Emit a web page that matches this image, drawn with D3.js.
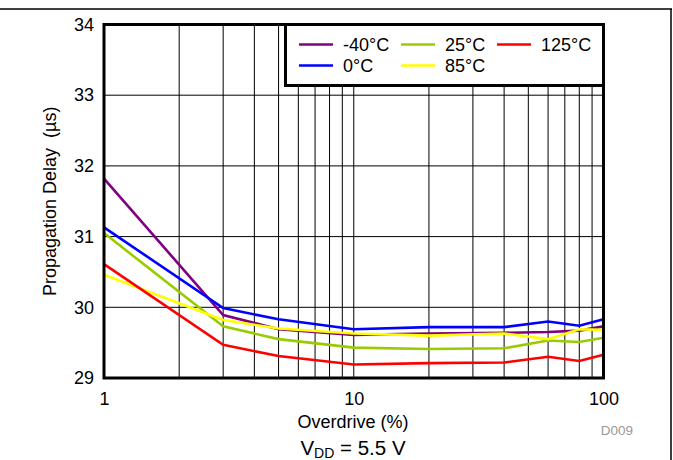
<!DOCTYPE html>
<html>
<head>
<meta charset="utf-8">
<script src="https://cdn.jsdelivr.net/npm/d3@7"></script>
<style>
  html, body { margin: 0; padding: 0; background: #fff; }
  svg { display: block; font-family: "Liberation Sans", Arial, sans-serif; }
</style>
</head>
<body>
<svg id="chart" width="673" height="460"></svg>
<script>
// Overdrive (%) sample points
const overdrive = [1, 3, 5, 10, 20, 40, 60, 80, 100];

// Propagation delay (µs) per temperature
const delayM40 = [31.82, 29.89, 29.69, 29.61, 29.63, 29.64, 29.65, 29.67, 29.73];
const delay0   = [31.13, 29.99, 29.83, 29.69, 29.72, 29.72, 29.80, 29.74, 29.83];
const delay25  = [31.05, 29.73, 29.55, 29.43, 29.41, 29.42, 29.53, 29.51, 29.57];
const delay85  = [30.46, 29.82, 29.70, 29.63, 29.60, 29.63, 29.55, 29.69, 29.68];
const delay125 = [30.61, 29.47, 29.31, 29.19, 29.21, 29.22, 29.30, 29.24, 29.33];

const seriesNames  = ["-40°C", "0°C", "25°C", "85°C", "125°C"];
const seriesColors = ["#800080", "#0000ff", "#99cc00", "#ffff00", "#ff0000"];
const seriesValues = [delayM40, delay0, delay25, delay85, delay125];

const xTickValues = [1, 10, 100];
const yTickValues = [29, 30, 31, 32, 33, 34];

const svg = d3.select("#chart");
const plot = { left: 104, right: 603.5, top: 24.5, bottom: 378 };
const FONT = "Liberation Sans, Arial, sans-serif";

const x = d3.scaleLog().domain([1, 100]).range([plot.left, plot.right]);
const y = d3.scaleLinear().domain([29, 34]).range([plot.bottom, plot.top]);

// Outer page rules
svg.append("line").attr("x1", 0).attr("x2", 672).attr("y1", 9).attr("y2", 9)
  .attr("stroke", "#000").attr("stroke-width", 1.5);
svg.append("line").attr("x1", 671).attr("x2", 671).attr("y1", 9).attr("y2", 460)
  .attr("stroke", "#000").attr("stroke-width", 1.5);

// Grid: vertical lines at every log step, horizontal at each integer
const minor = [];
[1, 10].forEach(d => { for (let k = 2; k <= 9; k++) minor.push(d * k); });
minor.push(10);
const grid = svg.append("g");
grid.selectAll("line.v").data(minor).enter().append("line")
  .attr("x1", d => x(d)).attr("x2", d => x(d))
  .attr("y1", plot.top).attr("y2", plot.bottom)
  .attr("stroke", "#000").attr("stroke-width", 1);
grid.selectAll("line.h").data(yTickValues.slice(1, -1)).enter().append("line")
  .attr("x1", plot.left).attr("x2", plot.right)
  .attr("y1", d => y(d)).attr("y2", d => y(d))
  .attr("stroke", "#000").attr("stroke-width", 1);

// Data lines
const line = d3.line().x((d, i) => x(overdrive[i])).y(d => y(d));
svg.append("g").selectAll("path").data(seriesValues).enter().append("path")
  .attr("d", d => line(d))
  .attr("fill", "none")
  .attr("stroke", (d, i) => seriesColors[i])
  .attr("stroke-width", 2.6)
  .attr("stroke-linejoin", "miter");

// Frame
svg.append("rect")
  .attr("x", plot.left).attr("y", plot.top)
  .attr("width", plot.right - plot.left).attr("height", plot.bottom - plot.top)
  .attr("fill", "none").attr("stroke", "#000").attr("stroke-width", 3);

// Axes (labels only)
const xAxis = d3.axisBottom(x).tickValues(xTickValues).tickFormat(d3.format("d")).tickSize(0).tickPadding(14);
svg.append("g").attr("transform", `translate(0,${plot.bottom})`).call(xAxis)
  .call(g => g.select(".domain").remove())
  .call(g => g.selectAll("text").attr("font-size", 18).attr("fill", "#000")
    .attr("font-family", FONT));

const yAxis = d3.axisLeft(y).tickValues(yTickValues).tickFormat(d3.format("d")).tickSize(0).tickPadding(10);
svg.append("g").attr("transform", `translate(${plot.left},0)`).call(yAxis)
  .call(g => g.select(".domain").remove())
  .call(g => g.selectAll("text").attr("font-size", 18).attr("fill", "#000")
    .attr("font-family", FONT));

// Axis titles
svg.append("text")
  .attr("x", 353).attr("y", 428)
  .attr("text-anchor", "middle").attr("font-size", 18)
  .text("Overdrive (%)");

svg.append("text")
  .attr("transform", `translate(56,${(plot.top + plot.bottom) / 2}) rotate(-90)`)
  .attr("text-anchor", "middle").attr("font-size", 18)
  .style("white-space", "pre")
  .text("Propagation Delay  (µs)");

svg.append("text")
  .attr("x", 617).attr("y", 435)
  .attr("text-anchor", "middle").attr("font-size", 13.5).attr("fill", "#999")
  .text("D009");

const cap = svg.append("text")
  .attr("x", 353).attr("y", 455)
  .attr("text-anchor", "middle").attr("font-size", 20.5);
cap.append("tspan").text("V");
cap.append("tspan").attr("font-size", 14).attr("dy", 2.5).text("DD");
cap.append("tspan").attr("dy", -2.5).text(" = 5.5 V");

// Legend
const legend = svg.append("g");
legend.append("rect")
  .attr("x", 285.5).attr("y", 24.5).attr("width", 318).attr("height", 61)
  .attr("fill", "#fff").attr("stroke", "#000").attr("stroke-width", 3);

const legendPos = [
  { col: 0, row: 0 }, { col: 0, row: 1 },
  { col: 1, row: 0 }, { col: 1, row: 1 },
  { col: 2, row: 0 }
];
const colX = [299, 401, 497];
const rowY = [44.5, 65.5];
const items = legend.selectAll("g.item").data(seriesNames).enter().append("g")
  .attr("transform", (d, i) => `translate(${colX[legendPos[i].col]},${rowY[legendPos[i].row]})`);
items.append("line").attr("x1", 0).attr("x2", 34).attr("y1", 0).attr("y2", 0)
  .attr("stroke", (d, i) => seriesColors[i]).attr("stroke-width", 2.6);
items.append("text").attr("x", 44).attr("y", 6.5).attr("font-size", 18)
  .text(d => d);
</script>
</body>
</html>
